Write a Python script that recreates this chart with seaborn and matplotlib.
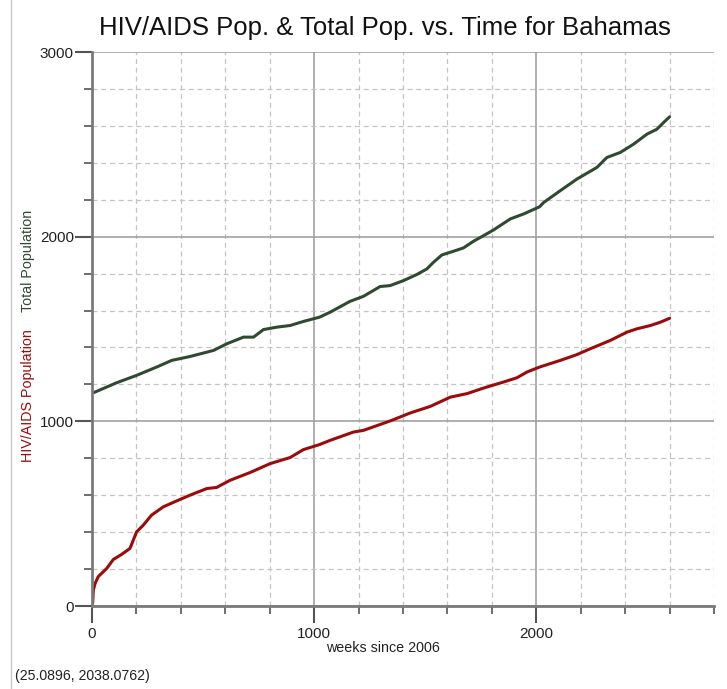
import matplotlib
matplotlib.use("Agg")
from matplotlib import pyplot as plt
from matplotlib.lines import Line2D
from matplotlib.ticker import MultipleLocator
import seaborn as sns
import pandas as pd

# values
weeks_total = [3, 111, 201, 291, 359, 441, 547, 607, 682, 727, 772, 832, 892, 952, 1024,
               1072, 1162, 1222, 1297, 1342, 1402, 1462, 1507, 1537, 1575, 1627, 1672,
               1717, 1762, 1807, 1883, 1943, 2015, 2033, 2108, 2183, 2273, 2318, 2378,
               2438, 2498, 2543, 2573, 2600]
total_pop = [1153, 1209, 1249, 1294, 1330, 1351, 1384, 1420, 1456, 1456, 1497, 1510, 1519,
             1541, 1564, 1591, 1650, 1677, 1730, 1735, 1762, 1795, 1825, 1861, 1901, 1921,
             1939, 1975, 2005, 2036, 2096, 2123, 2162, 2185, 2249, 2312, 2375, 2429, 2456,
             2501, 2555, 2582, 2618, 2649]

weeks_hiv = [3, 6, 14, 28, 66, 96, 133, 171, 186, 201, 231, 268, 321, 381, 441, 517, 561,
             622, 712, 802, 892, 952, 1024, 1072, 1177, 1222, 1342, 1432, 1523, 1613,
             1688, 1762, 1853, 1913, 1958, 2015, 2108, 2180, 2243, 2333, 2408, 2453,
             2514, 2559, 2600]
hiv_pop = [15, 86, 122, 159, 203, 252, 279, 312, 357, 402, 438, 492, 537, 569, 600, 636,
           642, 681, 723, 771, 804, 847, 874, 897, 942, 951, 1002, 1045, 1081, 1131, 1150,
           1180, 1213, 1236, 1267, 1294, 1330, 1360, 1393, 1438, 1483, 1501, 1519, 1537,
           1558]

green = "#2f4a2f"
red = "#9c0b0b"

df_total = pd.DataFrame({"week": weeks_total, "pop": total_pop})
df_hiv = pd.DataFrame({"week": weeks_hiv, "pop": hiv_pop})

sns.set_style("white")
plt.rcParams["font.family"] = ["Liberation Sans", "DejaVu Sans"]

fig = plt.figure(figsize=(7.27, 6.89), dpi=100)
ax = fig.add_axes([92 / 727, 83 / 689, 622 / 727, 554 / 689])

sns.lineplot(data=df_total, x="week", y="pop", color=green, linewidth=2.2, ax=ax)
sns.lineplot(data=df_hiv, x="week", y="pop", color=red, linewidth=2.2, ax=ax)

ax.set_xlim(0, 2800)
ax.set_ylim(0, 3000)
ax.xaxis.set_major_locator(MultipleLocator(1000))
ax.xaxis.set_minor_locator(MultipleLocator(200))
ax.yaxis.set_major_locator(MultipleLocator(1000))
ax.yaxis.set_minor_locator(MultipleLocator(200))

ax.grid(which="major", color="#9a9a9a", linestyle="-", linewidth=1.1)
ax.grid(which="minor", color="#c4c4c4", linestyle=(0, (4, 3)), linewidth=0.9)
ax.set_axisbelow(True)

for s in ["top", "right"]:
    ax.spines[s].set_visible(False)
for s in ["left", "bottom"]:
    ax.spines[s].set_color("#7a7a7a")
    ax.spines[s].set_linewidth(2)

ax.tick_params(which="both", bottom=True, left=True, top=False, right=False)
ax.tick_params(which="major", direction="out", length=12, width=1.5, color="#555555",
               labelsize=11, labelcolor="#222222", pad=1)
ax.tick_params(which="minor", direction="out", length=6, width=1.2, color="#555555")
ax.tick_params(axis="x", which="major", pad=3)

ax.set_xlabel("")
ax.set_ylabel("")

fig.text(385 / 727, 1 - 28 / 689, "HIV/AIDS Pop. & Total Pop. vs. Time for Bahamas",
         ha="center", va="center", fontsize=18.5, color="#111111")
fig.text(383 / 727, 1 - 648 / 689, "weeks since 2006", ha="center", va="center",
         fontsize=10.3, color="#222222")
fig.text(28 / 727, 1 - 396 / 689, "HIV/AIDS Population", rotation=90, ha="center",
         va="center", fontsize=10.3, color=red)
fig.text(28 / 727, 1 - 261 / 689, "Total Population", rotation=90, ha="center",
         va="center", fontsize=10.3, color=green)
fig.text(15 / 727, 1 - 676 / 689, "(25.0896, 2038.0762)", ha="left", va="center",
         fontsize=10.2, color="#222222")

fig.add_artist(Line2D([11 / 727, 11 / 727], [0, 1], transform=fig.transFigure,
                      color="#c8c8c8", linewidth=1))

fig.savefig("out.png", dpi=100)
